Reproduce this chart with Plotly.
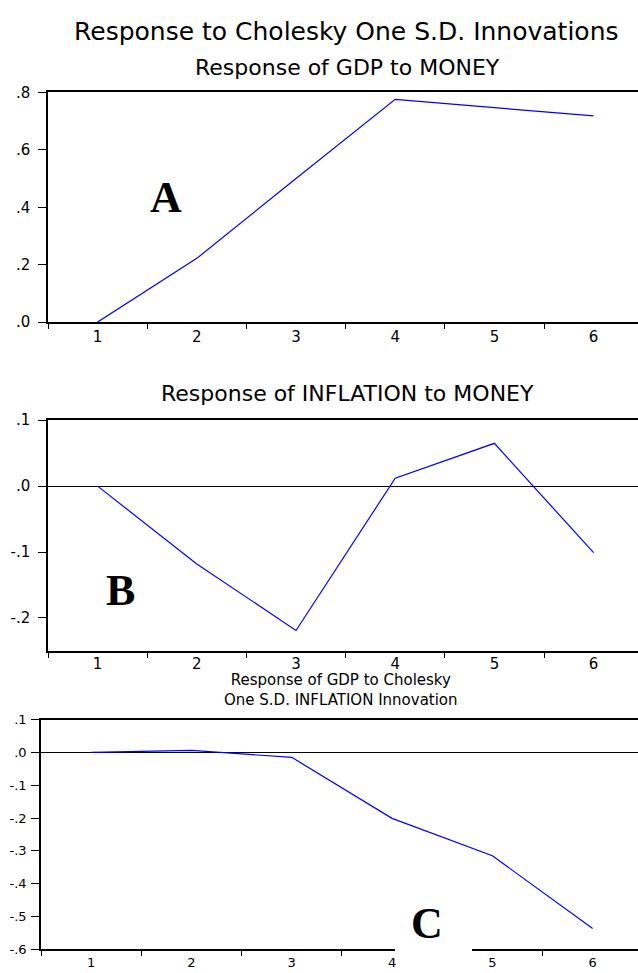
import plotly.graph_objects as go

W, H = 638, 973

periods = [1, 2, 3, 4, 5, 6]
period_labels = ["1", "2", "3", "4", "5", "6"]
gdp_to_money = [0.0, 0.222, 0.50, 0.776, 0.747, 0.718]
inflation_to_money = [0.0, -0.118, -0.219, 0.012, 0.065, -0.101]
gdp_to_inflation = [0.0, 0.006, -0.015, -0.201, -0.315, -0.537]

ya_vals = [0.0, 0.2, 0.4, 0.6, 0.8]
ya_text = [".0", ".2", ".4", ".6", ".8"]
yb_vals = [-0.2, -0.1, 0.0, 0.1]
yb_text = ["-.2", "-.1", ".0", ".1"]
yc_vals = [-0.6, -0.5, -0.4, -0.3, -0.2, -0.1, 0.0, 0.1]
yc_text = ["-.6", "-.5", "-.4", "-.3", "-.2", "-.1", ".0", ".1"]
boundaries = [0.5, 1.5, 2.5, 3.5, 4.5, 5.5, 6.5]

main_title = "Response to Cholesky One S.D. Innovations"
title_a = "Response of GDP to MONEY"
title_b = "Response of INFLATION to MONEY"
title_c = "Response of GDP to Cholesky<br>One S.D. INFLATION Innovation"

FONT = "DejaVu Sans"
BLUE = "#0000FF"


def px_x(p):
    return p / W


def px_y(p):
    return 1 - p / H


fig = go.Figure()
fig.add_trace(go.Scatter(x=periods, y=gdp_to_money, mode="lines",
                         line=dict(color=BLUE, width=1.2), xaxis="x", yaxis="y"))
fig.add_trace(go.Scatter(x=periods, y=inflation_to_money, mode="lines",
                         line=dict(color=BLUE, width=1.2), xaxis="x2", yaxis="y2"))
fig.add_trace(go.Scatter(x=periods, y=gdp_to_inflation, mode="lines",
                         line=dict(color=BLUE, width=1.2), xaxis="x3", yaxis="y3"))


def xaxis(left_px, unit_px, anchor, tick_font, standoff):
    return dict(
        domain=[px_x(left_px), 1.0],
        range=[0.5, 0.5 + (W - left_px) / unit_px],
        tickmode="array", tickvals=periods, ticktext=period_labels,
        ticks="", ticklabelstandoff=standoff,
        minor=dict(tickmode="array", tickvals=boundaries, ticks="outside",
                   ticklen=5, tickwidth=1, tickcolor="black", showgrid=False),
        showline=True, linecolor="black", linewidth=1.5, mirror=True,
        showgrid=False, zeroline=False, anchor=anchor,
        tickfont=dict(family=FONT, size=tick_font, color="black"),
    )


def yaxis(top_px, bot_px, rng, vals, text, anchor, tick_font, zl, standoff, tlen):
    return dict(
        domain=[px_y(bot_px), px_y(top_px)],
        range=rng,
        tickmode="array", tickvals=vals, ticktext=text,
        ticks="outside", ticklen=tlen, tickwidth=1, tickcolor="black",
        showline=True, linecolor="black", linewidth=1.5, mirror=False,
        showgrid=False, zeroline=zl, zerolinecolor="black", zerolinewidth=1,
        anchor=anchor, ticklabelstandoff=standoff,
        tickfont=dict(family=FONT, size=tick_font, color="black"),
    )


fig.update_layout(
    width=W, height=H,
    margin=dict(l=0, r=0, t=0, b=0),
    paper_bgcolor="white", plot_bgcolor="white",
    showlegend=False,
    xaxis=xaxis(48, 99.2, "y", 15, 0),
    yaxis=yaxis(85, 319, [0, 0.8], ya_vals, ya_text, "x", 15, False, 5, 8),
    xaxis2=xaxis(48, 99.2, "y2", 15, -2),
    yaxis2=yaxis(419, 654, [-0.25, 0.1], yb_vals, yb_text, "x2", 15, True, 5, 8),
    xaxis3=xaxis(41, 100.3, "y3", 13, 0),
    yaxis3=yaxis(724, 958, [-0.6, 0.1], yc_vals, yc_text, "x3", 13, True, 2, 8),
)

annotations = [
    dict(text=main_title, x=px_x(346), y=px_y(23), size=25),
    dict(text=title_a, x=px_x(347), y=px_y(60), size=22),
    dict(text=title_b, x=px_x(347), y=px_y(392), size=22),
    dict(text=title_c, x=px_x(341), y=px_y(694), size=15),
]
for a in annotations:
    fig.add_annotation(text=a["text"], x=a["x"], y=a["y"], xref="paper", yref="paper",
                       xanchor="center", yanchor="middle", showarrow=False,
                       font=dict(family=FONT, size=a["size"], color="black"))

# white patch behind the "C" label
fig.add_shape(type="rect", xref="paper", yref="paper",
              x0=px_x(395), x1=px_x(472), y0=0, y1=px_y(912),
              fillcolor="white", line=dict(width=0), layer="above")

for letter, cx, cy in [("A", 166, 192), ("B", 120, 592), ("C", 427, 932)]:
    fig.add_annotation(text="<b>%s</b>" % letter, x=px_x(cx), y=px_y(cy),
                       xref="paper", yref="paper", xanchor="center", yanchor="middle",
                       showarrow=False,
                       font=dict(family="Liberation Serif", size=44, color="black"))

fig.write_html("out.html", config={"displayModeBar": False},
               post_script="document.body.style.margin='0';document.body.style.overflow='hidden';")
